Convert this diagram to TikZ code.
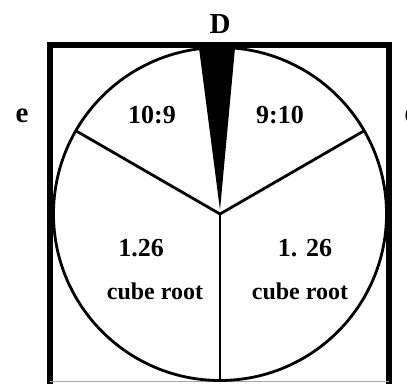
\documentclass[tikz,border=0pt]{standalone}
\usepackage{fontspec}
\setmainfont{Liberation Serif}
\usetikzlibrary{calc}
\begin{document}
\begin{tikzpicture}[x=1pt,y=1pt,
  lbl/.style={font=\bfseries\fontsize{26}{29}\selectfont, inner sep=0pt},
  wordlbl/.style={font=\bfseries\fontsize{24}{27}\selectfont, inner sep=0pt},
  biglbl/.style={font=\bfseries\fontsize{29}{32}\selectfont, inner sep=0pt},
  frame/.style={line width=6pt},
  spoke/.style={line width=2.8pt}]
\clip (0,0) rectangle (407,383);
\fill[white] (0,0) rectangle (407,383);
% frame
\coordinate (bl) at (50,-5);
\coordinate (tl) at (50,338);
\coordinate (tr) at (388.5,338);
\coordinate (br) at (388.5,-5);
\draw[frame, line join=miter] (bl) -- (tl) -- (tr) -- (br);
\coordinate (gl) at (50,1.2);
\coordinate (gr) at (388.5,1.2);
\draw[gray!70, line width=1pt] (gl) -- (gr);
% circle and spokes
\coordinate (c) at (220,169);
\draw[line width=2.8pt] (c) circle[radius=166.5];
\coordinate (pl) at ($(c)+(150:166.5)$);
\coordinate (pr) at ($(c)+(30:166.5)$);
\coordinate (pb) at ($(c)+(270:166.5)$);
\draw[spoke] (c) -- (pl);
\draw[spoke] (c) -- (pr);
\draw[spoke] (c) -- (pb);
% wedge
\coordinate (wl) at (199,335);
\coordinate (wr) at (235,335);
\coordinate (wt) at (220,173);
\fill[black] (wl) -- (wr) -- (wt) -- cycle;
% labels
\node[biglbl] (D) at (220,359) {D};
\node[biglbl] (el) at (22,267) {e};
\node[biglbl] (er) at (411,267) {e};
\node[lbl] (a) at (152,268) {10:9};
\node[lbl] (b) at (280,268) {9:10};
\node[lbl] (c1) at (141,135) {1.26};
\node[lbl] (c2) at (305,135) {1. 26};
\node[wordlbl] (d1) at (155,92) {cube root};
\node[wordlbl] (d2) at (300,92) {cube root};
\end{tikzpicture}
\end{document}
